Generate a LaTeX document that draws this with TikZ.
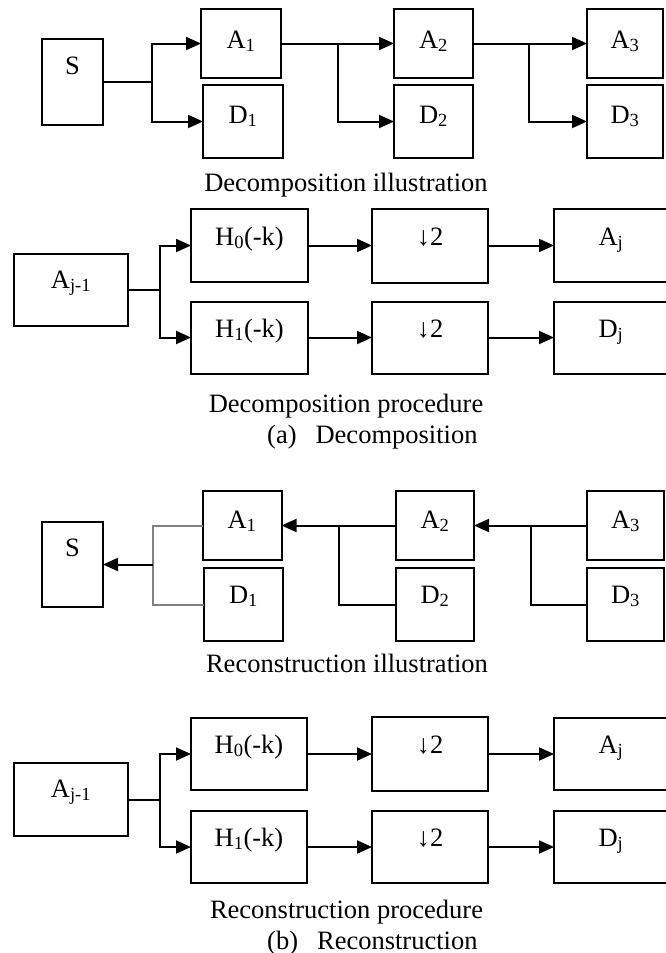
\documentclass[tikz,border=0pt]{standalone}
\usepackage{fontspec}
\setmainfont{Liberation Serif}
\usetikzlibrary{arrows.meta}
\begin{document}
\begin{tikzpicture}[x=1pt,y=-1pt,
  box/.style={draw, line width=2pt, inner sep=0pt, outer sep=0pt},
  lbl/.style={anchor=base, inner sep=0pt, font=\fontsize{26.5}{30}\selectfont},
  captxt/.style={anchor=base, inner sep=0pt, font=\fontsize{26.5}{30}\selectfont},
  ln/.style={line width=2pt},
  gln/.style={line width=2pt, black!50},
  arr/.style={line width=2pt, -{Triangle[length=15pt,width=13pt]}},
]
\useasboundingbox (0,0) rectangle (665,953);

% ---------------- Section 1: Decomposition illustration
\node[box, minimum width=61pt, minimum height=86pt] (S1) at (72.5,82) {};
\node[box, minimum width=80pt, minimum height=69pt] (A1) at (241,43.5) {};
\node[box, minimum width=80pt, minimum height=73pt] (D1) at (243,121.5) {};
\node[box, minimum width=79pt, minimum height=69pt] (A2) at (433.5,43.5) {};
\node[box, minimum width=79pt, minimum height=73pt] (D2) at (433.5,121.5) {};
\node[box, minimum width=76pt, minimum height=69pt] (A3) at (625,43.5) {};
\node[box, minimum width=76pt, minimum height=73pt] (D3) at (625,121.5) {};

\node[lbl] (S1t) at (72.5,74) {S};
\node[lbl] (A1t) at (241,48) {A\textsubscript{1}};
\node[lbl] (D1t) at (243,123) {D\textsubscript{1}};
\node[lbl] (A2t) at (433.5,48) {A\textsubscript{2}};
\node[lbl] (D2t) at (433.5,123) {D\textsubscript{2}};
\node[lbl] (A3t) at (625,48) {A\textsubscript{3}};
\node[lbl] (D3t) at (625,123) {D\textsubscript{3}};

\coordinate (b1) at (152,82);
\coordinate (b2) at (338,43.5);
\coordinate (b3) at (529,43.5);
\draw[ln] (S1.east) -- (b1);
\draw[arr] (b1) |- (A1.west);
\draw[arr] (b1) |- (D1.west);
\draw[arr] (A1.east) -- (A2.west);
\draw[arr] (b2) |- (D2.west);
\draw[arr] (A2.east) -- (A3.west);
\draw[arr] (b3) |- (D3.west);

\node[captxt] (c1) at (346,191) {Decomposition illustration};

% ---------------- Section 2: Decomposition procedure
\node[box, minimum width=114pt, minimum height=72pt] (P1) at (71,290) {};
\node[box, minimum width=117pt, minimum height=73pt] (H0a) at (249.5,245.5) {};
\node[box, minimum width=117pt, minimum height=72pt] (H1a) at (249.5,337.5) {};
\node[box, minimum width=116pt, minimum height=74pt] (dAa) at (430,245.5) {};
\node[box, minimum width=116pt, minimum height=72pt] (dDa) at (430,337.5) {};
\node[box, minimum width=114pt, minimum height=73pt] (Aja) at (611,245.5) {};
\node[box, minimum width=114pt, minimum height=72pt] (Dja) at (611,337.5) {};

\node[lbl] (P1t) at (71,288) {A\textsubscript{j-1}};
\node[lbl] (H0at) at (249.5,245) {H\textsubscript{0}(-k)};
\node[lbl] (H1at) at (249.5,337) {H\textsubscript{1}(-k)};
\node[lbl] (dAat) at (430,245) {↓2};
\node[lbl] (dDat) at (430,337) {↓2};
\node[lbl] (Ajat) at (611,245) {A\textsubscript{j}};
\node[lbl] (Djat) at (611,337) {D\textsubscript{j}};

\coordinate (b4) at (160,290);
\draw[ln] (P1.east) -- (b4);
\draw[arr] (b4) |- (H0a.west);
\draw[arr] (b4) |- (H1a.west);
\draw[arr] (H0a.east) -- (dAa.west);
\draw[arr] (H1a.east) -- (dDa.west);
\draw[arr] (dAa.east) -- (Aja.west);
\draw[arr] (dDa.east) -- (Dja.west);

\node[captxt] (c2) at (346,412) {Decomposition procedure};
\node[captxt, anchor=base west] (c3) at (267,443) {(a)\hspace{19pt}Decomposition};

% ---------------- Section 3: Reconstruction illustration
\node[box, minimum width=61pt, minimum height=85pt] (S3) at (72.5,564.5) {};
\node[box, minimum width=79pt, minimum height=69pt] (RA1) at (242,525.5) {};
\node[box, minimum width=79pt, minimum height=73pt] (RD1) at (243.5,604.5) {};
\node[box, minimum width=78pt, minimum height=69pt] (RA2) at (435,525.5) {};
\node[box, minimum width=78pt, minimum height=73pt] (RD2) at (435,604.5) {};
\node[box, minimum width=77pt, minimum height=69pt] (RA3) at (625.5,525.5) {};
\node[box, minimum width=77pt, minimum height=73pt] (RD3) at (625.5,604.5) {};

\node[lbl] (S3t) at (72.5,556) {S};
\node[lbl] (RA1t) at (242,528) {A\textsubscript{1}};
\node[lbl] (RD1t) at (243.5,603) {D\textsubscript{1}};
\node[lbl] (RA2t) at (435,528) {A\textsubscript{2}};
\node[lbl] (RD2t) at (435,603) {D\textsubscript{2}};
\node[lbl] (RA3t) at (625.5,528) {A\textsubscript{3}};
\node[lbl] (RD3t) at (625.5,603) {D\textsubscript{3}};

\coordinate (r1) at (153,564.5);
\coordinate (r2) at (339,525.5);
\coordinate (r3) at (531,525.5);
\draw[gln] (RA1.west) -| (r1);
\draw[gln] (RD1.west) -| (r1);
\draw[arr] (r1) -- (S3.east);
\draw[arr] (RA2.west) -- (RA1.east);
\draw[ln] (RD2.west) -| (r2);
\draw[arr] (RA3.west) -- (RA2.east);
\draw[ln] (RD3.west) -| (r3);

\node[captxt] (c4) at (347,672) {Reconstruction illustration};

% ---------------- Section 4: Reconstruction procedure
\node[box, minimum width=114pt, minimum height=73pt] (P2) at (71,799.5) {};
\node[box, minimum width=116pt, minimum height=72pt] (H0b) at (249,754) {};
\node[box, minimum width=116pt, minimum height=72pt] (H1b) at (249,847) {};
\node[box, minimum width=116pt, minimum height=74pt] (dAb) at (430,754) {};
\node[box, minimum width=116pt, minimum height=72pt] (dDb) at (430,847) {};
\node[box, minimum width=114pt, minimum height=72pt] (Ajb) at (611,754) {};
\node[box, minimum width=114pt, minimum height=72pt] (Djb) at (611,847) {};

\node[lbl] (P2t) at (71,797) {A\textsubscript{j-1}};
\node[lbl] (H0bt) at (249,753) {H\textsubscript{0}(-k)};
\node[lbl] (H1bt) at (249,846) {H\textsubscript{1}(-k)};
\node[lbl] (dAbt) at (430,753) {↓2};
\node[lbl] (dDbt) at (430,846) {↓2};
\node[lbl] (Ajbt) at (611,753) {A\textsubscript{j}};
\node[lbl] (Djbt) at (611,846) {D\textsubscript{j}};

\coordinate (b5) at (160,799.5);
\draw[ln] (P2.east) -- (b5);
\draw[arr] (b5) |- (H0b.west);
\draw[arr] (b5) |- (H1b.west);
\draw[arr] (H0b.east) -- (dAb.west);
\draw[arr] (H1b.east) -- (dDb.west);
\draw[arr] (dAb.east) -- (Ajb.west);
\draw[arr] (dDb.east) -- (Djb.west);

\node[captxt] (c5) at (346.5,918) {Reconstruction procedure};
\node[captxt, anchor=base west] (c6) at (267,949) {(b)\hspace{19pt}Reconstruction};
\end{tikzpicture}
\end{document}
